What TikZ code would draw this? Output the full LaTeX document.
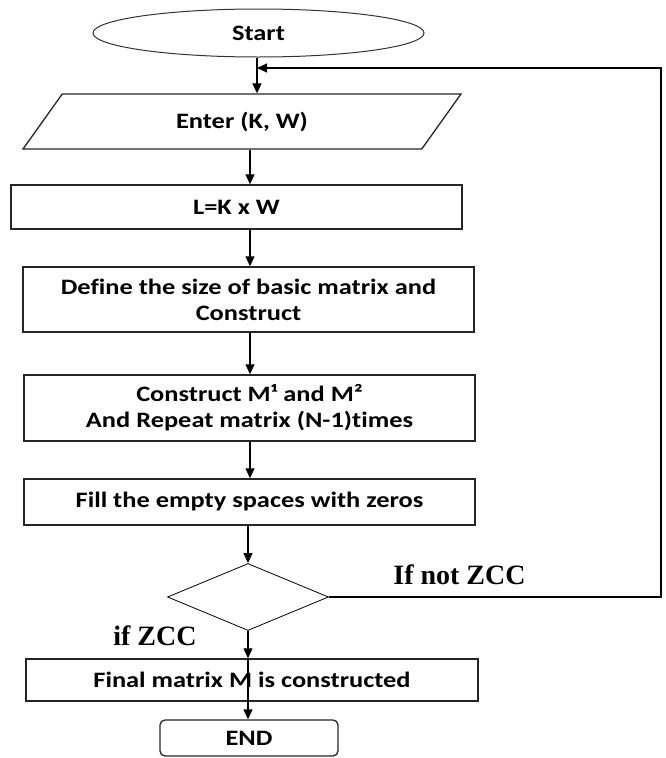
\documentclass[tikz,border=0pt]{standalone}
\usepackage{fontspec}
\setmainfont{Carlito}
\newfontfamily\boxfont[FakeStretch=1.2, Ligatures=NoCommon]{Carlito}
\newfontfamily\labelfont{Liberation Serif}
\usetikzlibrary{shapes.geometric,arrows.meta}

\begin{document}
\begin{tikzpicture}[
    x=1pt, y=-1pt,
    >={Triangle[length=10pt,width=9pt]},
    flow/.style={->, line width=1.3pt},
    process/.style={rectangle, draw=black!85, line width=1.5pt,
                    minimum width=451pt, align=center, inner sep=0pt,
                    font=\boxfont\fontsize{22}{26}\selectfont\bfseries},
    terminal/.style={ellipse, draw=black!80, line width=1pt,
                     minimum width=331pt, minimum height=48pt, inner sep=0pt,
                     font=\boxfont\fontsize{22}{26}\selectfont\bfseries},
    io/.style={trapezium, trapezium left angle=26.6, trapezium right angle=153.4,
               trapezium stretches body, draw=black!85, line width=1.3pt,
               minimum width=438pt, minimum height=55pt, inner sep=0pt,
               font=\boxfont\fontsize{22}{26}\selectfont\bfseries},
    decision/.style={diamond, draw, line width=0.8pt,
                     minimum width=161pt, minimum height=67pt, inner sep=0pt},
    endbox/.style={rectangle, rounded corners=5pt, draw=black!85, line width=1.3pt,
                   minimum width=178pt, minimum height=36pt, inner sep=0pt,
                   font=\boxfont\fontsize{22}{26}\selectfont\bfseries},
    cond/.style={font=\labelfont\fontsize{28}{30}\selectfont\bfseries, inner sep=0pt}
]
\useasboundingbox (0,0) rectangle (665,758);

% flowchart boxes
\node[terminal] (start) at (258.5,33) {Start};
\node[io] (enter) at (242,121.5) {Enter (K, W)};
\node[process, minimum height=44pt] (lkw) at (236.5,207) {L=K x W};
\node[process, minimum height=65pt] (basic) at (248.5,299.5) {Define the size of basic matrix and\\Construct};
\node[process, minimum height=66pt] (repeat) at (249.5,408) {Construct M¹ and M²\\And Repeat matrix (N-1)times};
\node[process, minimum height=46pt] (zeros) at (249.5,502) {Fill the empty spaces with zeros};
\node[decision] (zcc) at (248,597) {};
\node[process, minimum height=42pt, minimum width=452pt] (final) at (252,680) {Final matrix M is constructed};
\node[endbox] (end) at (249,738) {END};

% branch labels
\node[cond, anchor=base] (notzcc) at (459.5,584) {If not ZCC};
\node[cond, anchor=base] (iszcc) at (155,645) {if ZCC};

% helper points
\coordinate (axis) at (250,0);
\coordinate (axisS) at (257,0);
\coordinate (loopr) at (661,68);
\coordinate (loopl) at (257,68);

% connectors
\draw[flow] (start.south -| axisS) -- (enter.north -| axisS);
\draw[flow] (enter.south -| axis) -- (lkw.north -| axis);
\draw[flow] (lkw.south -| axis) -- (basic.north -| axis);
\draw[flow] (basic.south -| axis) -- (repeat.north -| axis);
\draw[flow] (repeat.south -| axis) -- (zeros.north -| axis);
\draw[flow] (zeros.south -| zcc.north) -- (zcc.north);
\draw[flow] (zcc.south) -- (final.north -| zcc.south);
\draw[flow] (final.north -| zcc.south) -- (end.north -| zcc.south);
\draw[flow] (zcc.east) -| (loopr) -- (loopl);
\end{tikzpicture}
\end{document}
